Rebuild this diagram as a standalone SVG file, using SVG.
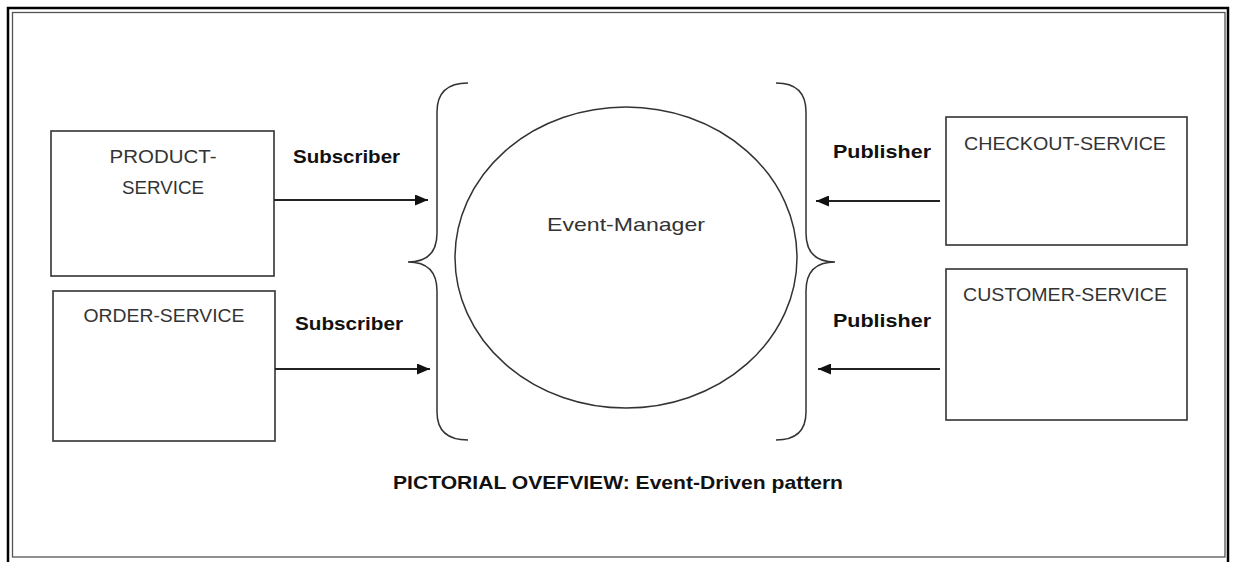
<svg xmlns="http://www.w3.org/2000/svg" width="1235" height="562" viewBox="0 0 1235 562">
<style>
.box{fill:#fff;stroke:#333;stroke-width:1.6}
.lbl{font-family:"Liberation Sans",Arial,sans-serif;font-size:19px;fill:#333;text-anchor:middle}
.edge{font-family:"Liberation Sans",Arial,sans-serif;font-size:19px;font-weight:bold;fill:#111}
.conn{stroke:#222;stroke-width:1.8;fill:none}
.brace{stroke:#333;stroke-width:1.5;fill:none}
</style>
<defs>
<marker id="ah" markerWidth="13" markerHeight="11" refX="13" refY="5.5" orient="auto" markerUnits="userSpaceOnUse">
<path d="M0,0 L13,5.5 L0,11 Z" fill="#111"/>
</marker>
</defs>
<rect x="0" y="0" width="1235" height="562" fill="#fff"/>
<rect x="8" y="8" width="1220" height="560" fill="none" stroke="#000" stroke-width="2.5"/>
<rect x="12.5" y="12.5" width="1212.5" height="544.5" fill="none" stroke="#555" stroke-width="1.3"/>

<g id="product-service">
<rect class="box" x="51" y="131" width="223" height="145"/>
<text class="lbl" x="163" y="163" textLength="107" lengthAdjust="spacingAndGlyphs">PRODUCT-</text>
<text class="lbl" x="163" y="194" textLength="82" lengthAdjust="spacingAndGlyphs">SERVICE</text>
</g>
<g id="order-service">
<rect class="box" x="53" y="291" width="222" height="150"/>
<text class="lbl" x="164" y="322" textLength="161" lengthAdjust="spacingAndGlyphs">ORDER-SERVICE</text>
</g>
<g id="checkout-service">
<rect class="box" x="946" y="117" width="241" height="128"/>
<text class="lbl" x="1065" y="150" textLength="202" lengthAdjust="spacingAndGlyphs">CHECKOUT-SERVICE</text>
</g>
<g id="customer-service">
<rect class="box" x="946" y="269" width="241" height="151"/>
<text class="lbl" x="1065" y="301" textLength="204" lengthAdjust="spacingAndGlyphs">CUSTOMER-SERVICE</text>
</g>
<g id="event-manager">
<path class="brace" d="M468,83 Q437,83 437,112 L437,233 Q437,262 408,262 Q437,262 437,291 L437,412 Q437,440 468,440"/>
<path class="brace" d="M776,83 Q806,83 806,112 L806,233 Q806,262 835,262 Q806,262 806,291 L806,412 Q806,440 776,440"/>
<ellipse cx="626" cy="257.5" rx="171" ry="150.5" fill="none" stroke="#333" stroke-width="1.5"/>
<text class="lbl" x="626" y="231" font-size="20" textLength="158" lengthAdjust="spacingAndGlyphs">Event-Manager</text>
</g>
<g id="connectors">
<line class="conn" x1="274" y1="200" x2="428" y2="200" marker-end="url(#ah)"/>
<line class="conn" x1="275" y1="369" x2="430" y2="369" marker-end="url(#ah)"/>
<line class="conn" x1="940" y1="201" x2="816" y2="201" marker-end="url(#ah)"/>
<line class="conn" x1="940" y1="369" x2="818" y2="369" marker-end="url(#ah)"/>
<text class="edge" x="293" y="163" textLength="107" lengthAdjust="spacingAndGlyphs">Subscriber</text>
<text class="edge" x="295" y="330" textLength="108" lengthAdjust="spacingAndGlyphs">Subscriber</text>
<text class="edge" x="833" y="158" textLength="98" lengthAdjust="spacingAndGlyphs">Publisher</text>
<text class="edge" x="833" y="327" textLength="98" lengthAdjust="spacingAndGlyphs">Publisher</text>
</g>
<text class="edge" x="393" y="489" textLength="450" lengthAdjust="spacingAndGlyphs">PICTORIAL OVEFVIEW: Event-Driven pattern</text>
</svg>
